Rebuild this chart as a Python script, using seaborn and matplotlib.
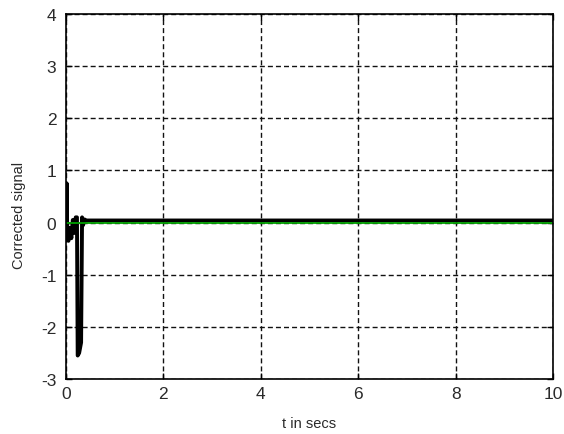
import numpy as np
import pandas as pd
import matplotlib
matplotlib.use("Agg")
import matplotlib.pyplot as plt
import seaborn as sns

# Corrected signal samples (time in seconds, amplitude)
t_secs = [0.0, 0.015, 0.025, 0.05, 0.08, 0.11, 0.14, 0.17, 0.20, 0.225, 0.24, 0.27, 0.31, 0.33, 0.35, 0.38, 0.42, 10.0]
signal = [0.0, 0.75, -0.25, -0.35, -0.1, -0.3, 0.05, -0.2, 0.1, 0.1, -2.55, -2.5, -2.3, 0.1, -0.05, 0.06, 0.04, 0.04]

# Reference (zero) line
ref_t = [0.0, 10.0]
ref_y = [0.0, 0.0]

x_ticks = [0, 2, 4, 6, 8, 10]
y_ticks = [-3, -2, -1, 0, 1, 2, 3, 4]

sns.set_theme(style="white")
plt.rcParams["font.family"] = ["Liberation Sans", "DejaVu Sans"]
plt.rcParams["axes.unicode_minus"] = False

fig = plt.figure(figsize=(5.64, 4.35), dpi=100)
ax = fig.add_axes([66 / 564, 1 - 380 / 435, (553 - 66) / 564, (380 - 15) / 435])

df_sig = pd.DataFrame({"t": t_secs, "y": signal})
df_ref = pd.DataFrame({"t": ref_t, "y": ref_y})

sns.lineplot(data=df_sig, x="t", y="y", ax=ax, color="black", linewidth=2.8, estimator=None, sort=False)
sns.lineplot(data=df_ref, x="t", y="y", ax=ax, color="#00a000", linewidth=1.3, estimator=None, sort=False)

ax.set_xlim(0, 10)
ax.set_ylim(-3, 4)
ax.set_xticks(x_ticks)
ax.set_yticks(y_ticks)
ax.grid(True, color="#111111", linestyle=(0, (3.6, 2.2)), linewidth=1.0)
ax.tick_params(direction="in", length=4, width=1, colors="black", labelcolor="#2a2a2a",
               labelsize=12.5, top=True, right=True, bottom=True, left=True)
ax.tick_params(axis="y", pad=7)
ax.tick_params(axis="x", pad=5)
for s in ax.spines.values():
    s.set_color("black")
    s.set_linewidth(1.2)

ax.set_xlabel("t in secs", fontsize=10.5, color="#2a2a2a")
ax.set_ylabel("Corrected signal", fontsize=10.5, color="#2a2a2a")
ax.xaxis.set_label_coords(0.5, -0.101)
ax.yaxis.set_label_coords(-0.097, 0.452)
ax.yaxis.label.set_va("center")

fig.savefig("out.png", dpi=100, facecolor="white")
